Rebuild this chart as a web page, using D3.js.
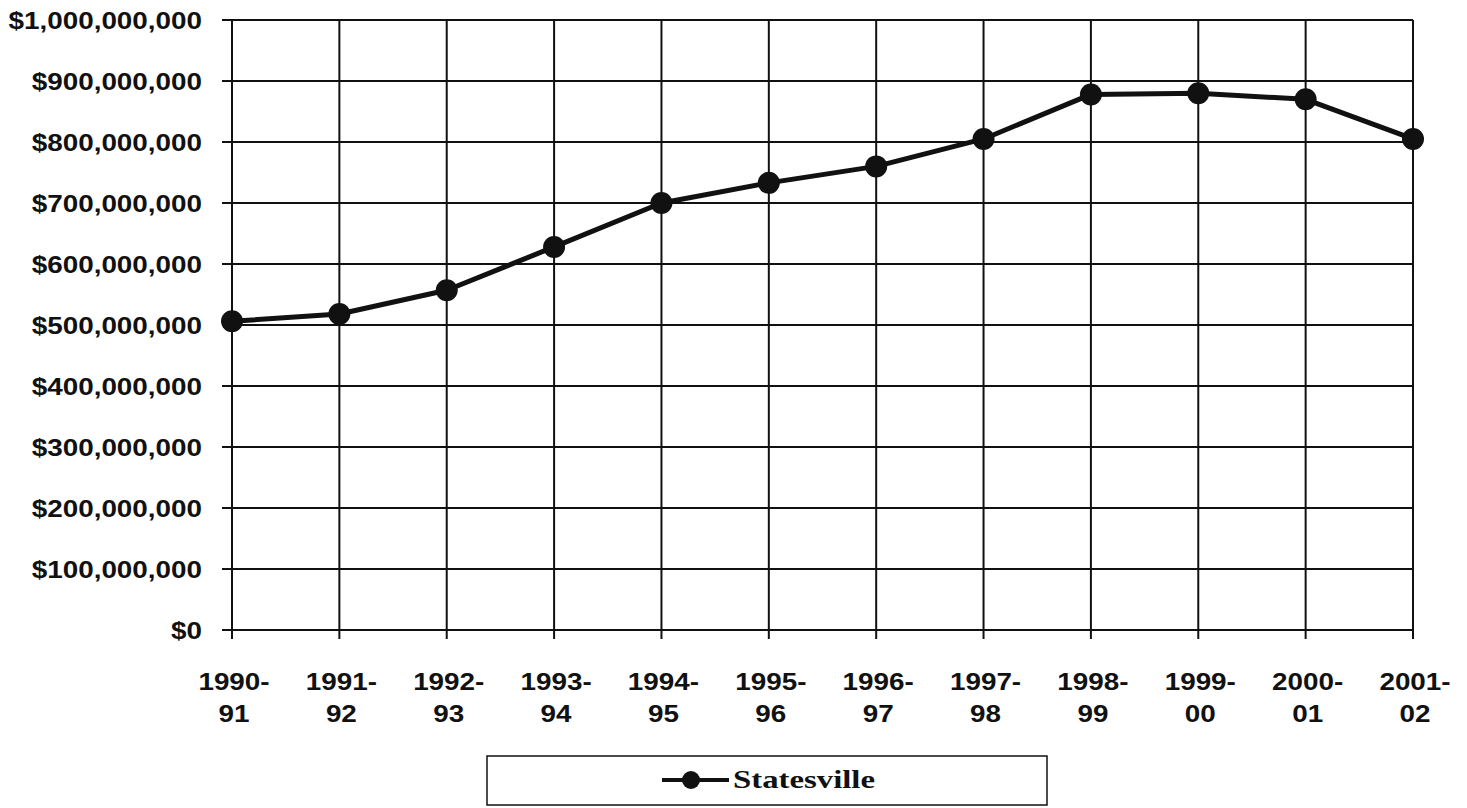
<html>
<head>
<script src="https://cdn.jsdelivr.net/npm/d3@7"></script>
<style>
body { margin: 0; background: #fff; }
svg { display: block; }
.tick-lbl { font-family: "Liberation Sans", Arial, sans-serif; font-weight: bold; font-size: 24px; fill: #111; }
</style>
</head>
<body>
<div id="canvas"></div>
<script>
// data
var years = ["1990-91", "1991-92", "1992-93", "1993-94", "1994-95", "1995-96",
             "1996-97", "1997-98", "1998-99", "1999-00", "2000-01", "2001-02"];
var values = [506000000, 518000000, 557000000, 628000000, 700000000, 733000000,
              760000000, 805000000, 878000000, 880000000, 870000000, 805000000];
var yTicks = [0, 100000000, 200000000, 300000000, 400000000, 500000000,
              600000000, 700000000, 800000000, 900000000, 1000000000];
var seriesName = "Statesville";

var W = 1467, H = 808;
var svg = d3.select("#canvas").append("svg").attr("width", W).attr("height", H);

var x = d3.scalePoint().domain(years).range([232, 1413]);
var y = d3.scaleLinear().domain([0, 1000000000]).range([630, 20]);

var fmt = function(v){ return "$" + d3.format(",")(v); };
var sx = 1.16; // the scanned labels are wider than the font

// horizontal gridlines + y tick labels
svg.append("g").selectAll("line").data(yTicks).enter().append("line")
	.attr("x1", 222).attr("x2", x.range()[1])
	.attr("y1", function(d){ return y(d); }).attr("y2", function(d){ return y(d); })
	.attr("stroke", "#111").attr("stroke-width", 2);

svg.append("g").selectAll("text").data(yTicks).enter().append("text")
	.attr("class", "tick-lbl")
	.attr("transform", function(d){ return "translate(202," + (y(d) + 9) + ") scale(" + sx + ",1)"; })
	.attr("text-anchor", "end")
	.text(fmt);

// vertical gridlines
svg.append("g").selectAll("line").data(years).enter().append("line")
	.attr("x1", function(d){ return x(d); }).attr("x2", function(d){ return x(d); })
	.attr("y1", y(1000000000)).attr("y2", y(0) + 9)
	.attr("stroke", "#111").attr("stroke-width", 2);

// x labels, split on the hyphen into two lines
var xl = svg.append("g").selectAll("text").data(years).enter().append("text")
	.attr("class", "tick-lbl")
	.attr("transform", function(d){ return "translate(" + (x(d) + 2) + ",0) scale(" + sx + ",1)"; })
	.attr("text-anchor", "middle");
xl.append("tspan").attr("x", 0).attr("y", 690)
	.text(function(d){ return d.split("-")[0] + "-"; });
xl.append("tspan").attr("x", 0).attr("y", 722)
	.text(function(d){ return d.split("-")[1]; });

// the series
var line = d3.line()
	.x(function(d, i){ return x(years[i]); })
	.y(function(d){ return y(d); });

svg.append("path").datum(values)
	.attr("d", line)
	.attr("fill", "none").attr("stroke", "#111").attr("stroke-width", 5)
	.attr("stroke-linejoin", "round");

svg.append("g").selectAll("circle").data(values).enter().append("circle")
	.attr("cx", function(d, i){ return x(years[i]); })
	.attr("cy", function(d){ return y(d); })
	.attr("r", 11)
	.attr("fill", "#111");

// legend
var lg = svg.append("g");
lg.append("rect").attr("x", 487).attr("y", 756).attr("width", 560).attr("height", 49)
	.attr("fill", "#fff").attr("stroke", "#111").attr("stroke-width", 1.5);
lg.append("line").attr("x1", 662).attr("x2", 729).attr("y1", 780).attr("y2", 780)
	.attr("stroke", "#111").attr("stroke-width", 4);
lg.append("circle").attr("cx", 691).attr("cy", 780).attr("r", 9).attr("fill", "#111");
lg.append("text").attr("x", 733).attr("y", 788)
	.attr("font-family", "'Liberation Serif', 'Times New Roman', serif")
	.attr("font-weight", "bold").attr("font-size", 26).attr("fill", "#111")
	.attr("textLength", 142).attr("lengthAdjust", "spacingAndGlyphs")
	.text(seriesName);
</script>
</body>
</html>
